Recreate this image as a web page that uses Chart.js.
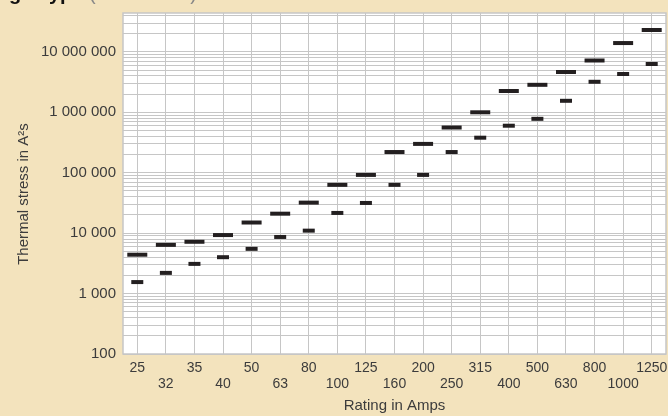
<!DOCTYPE html>
<html>
<head>
<meta charset="utf-8">
<script src="https://cdn.jsdelivr.net/npm/chart.js@4/dist/chart.umd.min.js"></script>
<style>
  html, body { margin: 0; padding: 0; background: #f3e3bd; }
  #wrap { width: 668px; height: 416px; position: relative; }
</style>
</head>
<body>
<div id="wrap"><canvas id="fuseChart" width="668" height="416"></canvas></div>
<script>
// ratings (A) and I2t values
const ratings = ['25', '32', '35', '40', '50', '63', '80', '100', '125', '160', '200', '250', '315', '400', '500', '630', '800', '1000', '1250'];
const totalI2t = [4400, 6400, 7200, 9300, 15000, 21000, 32000, 63000, 92000, 220000, 300000, 560000, 1000000, 2250000, 2850000, 4650000, 7200000, 14000000, 23000000];
const preArcI2t = [1550, 2200, 3100, 4000, 5500, 8650, 11000, 21600, 31600, 63000, 92000, 220000, 380000, 600000, 780000, 1550000, 3200000, 4300000, 6300000];
const yLabelValues = [100, 1000, 10000, 100000, 1000000, 10000000];
const yMin = 100;
const yMax = 44000000;

const titleBold = 'gG type';
const titleRest = '(IEC 60269)';
const yTitle = 'Thermal stress in A\u00b2s';
const xTitle = 'Rating in Amps';

const textColor = '#3c3c3c';
const gridColor = '#c6c6c6';
const markColor = '#231f20';

function spaced(v) {
  return String(v).replace(/\B(?=(\d{3})+(?!\d))/g, ' ');
}

// fond blanc de la zone du graphique + cadre + textes
const decorPlugin = {
  id: 'decor',
  beforeDraw(chart) {
    const { ctx, chartArea } = chart;
    ctx.save();
    ctx.fillStyle = '#ffffff';
    ctx.fillRect(chartArea.left, chartArea.top, chartArea.right - chartArea.left, chartArea.bottom - chartArea.top);
    ctx.restore();
  },
  afterDraw(chart) {
    const { ctx, chartArea } = chart;
    ctx.save();
    ctx.strokeStyle = gridColor;
    ctx.lineWidth = 1.5;
    ctx.strokeRect(chartArea.left, chartArea.top, chartArea.right - chartArea.left, chartArea.bottom - chartArea.top);

    // titre coupé en haut
    ctx.textBaseline = 'alphabetic';
    ctx.textAlign = 'left';
    ctx.fillStyle = '#111111';
    ctx.font = 'bold 20px "Liberation Sans", Arial, sans-serif';
    ctx.fillText(titleBold, 9, 0);
    const w = ctx.measureText(titleBold + ' ').width;
    ctx.fillStyle = '#888888';
    ctx.font = '20px "Liberation Sans", Arial, sans-serif';
    ctx.fillText(titleRest, 9 + w, 0);

    // titre de l'axe y
    ctx.translate(24, 194);
    ctx.rotate(-Math.PI / 2);
    ctx.textAlign = 'center';
    ctx.textBaseline = 'middle';
    ctx.fillStyle = textColor;
    ctx.font = '15px "Liberation Sans", Arial, sans-serif';
    ctx.fillText(yTitle, 0, 0);
    ctx.restore();
  }
};

const ctx = document.getElementById('fuseChart');
const fuseChart = new Chart(ctx, {
  type: 'line',
  data: {
    labels: ratings,
    datasets: [
      {
        label: 'Total',
        data: totalI2t,
        showLine: false,
        pointStyle: 'line',
        radius: 10,
        hoverRadius: 10,
        borderWidth: 4,
        borderColor: markColor,
        backgroundColor: markColor
      },
      {
        label: 'Pre-arcing',
        data: preArcI2t,
        showLine: false,
        pointStyle: 'line',
        radius: 6,
        hoverRadius: 6,
        borderWidth: 4,
        borderColor: markColor,
        backgroundColor: markColor
      }
    ]
  },
  options: {
    responsive: false,
    animation: false,
    devicePixelRatio: 1,
    layout: { autoPadding: false, padding: { top: 13, right: 2, left: 0, bottom: 0 } },
    plugins: {
      legend: { display: false },
      tooltip: { enabled: false },
      title: { display: false }
    },
    scales: {
      x: {
        type: 'category',
        offset: true,
        grid: { color: gridColor, lineWidth: 1, offset: false, drawTicks: false },
        border: { display: false },
        ticks: {
          autoSkip: false,
          maxRotation: 0,
          minRotation: 0,
          padding: 6,
          color: textColor,
          font: { family: '"Liberation Sans", Arial, sans-serif', size: 14, lineHeight: 1.15 },
          callback: function (value, index) {
            const lab = ratings[index];
            return index % 2 ? ['', lab] : lab;
          }
        },
        title: {
          display: true,
          text: xTitle,
          color: textColor,
          font: { family: '"Liberation Sans", Arial, sans-serif', size: 15 },
          padding: { top: 0, bottom: 1 }
        },
        afterFit: function (scale) {
          scale.height = 62;
          scale.paddingLeft = 0;
          scale.paddingRight = 0;
        }
      },
      y: {
        type: 'logarithmic',
        min: yMin,
        max: yMax,
        grid: { color: gridColor, lineWidth: 1, drawTicks: false },
        border: { display: false },
        afterBuildTicks: function (scale) {
          const ticks = [];
          yLabelValues.forEach(function (d) {
            for (let m = 1; m <= 9; m++) {
              const v = d * m;
              if (v >= yMin && v <= yMax) ticks.push({ value: v });
            }
          });
          scale.ticks = ticks;
        },
        ticks: {
          autoSkip: false,
          padding: 7,
          color: textColor,
          font: { family: '"Liberation Sans", Arial, sans-serif', size: 15 },
          callback: function (value) {
            return yLabelValues.indexOf(value) >= 0 ? spaced(value) : '';
          }
        },
        afterFit: function (scale) {
          scale.width = 123;
          scale.paddingTop = 0;
          scale.paddingBottom = 0;
        }
      }
    }
  },
  plugins: [decorPlugin]
});
</script>
</body>
</html>
